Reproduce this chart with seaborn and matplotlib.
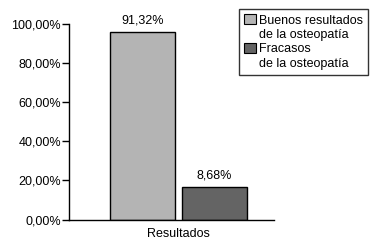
import matplotlib
matplotlib.use("Agg")
import pandas as pd
import matplotlib.pyplot as plt
import seaborn as sns
from matplotlib.patches import Patch
from matplotlib.ticker import FuncFormatter

grupo = ["Resultados", "Resultados"]
series = ["Buenos resultados", "Fracasos"]
# bar heights as drawn in the picture, and the printed labels
alturas = [95.9, 16.6]
etiquetas = ["91,32%", "8,68%"]
colores = ["#b4b4b4", "#646464"]
leyenda = ["Buenos resultados", "de la osteopatía", "Fracasos", "de la osteopatía"]

df = pd.DataFrame({"grupo": grupo, "serie": series, "valor": alturas})

sns.set_style("white")
plt.rcParams["font.family"] = ["Liberation Sans", "DejaVu Sans"]
plt.rcParams.update({"text.color": "black", "axes.labelcolor": "black",
                     "xtick.color": "black", "ytick.color": "black"})

fig = plt.figure(figsize=(3.92, 2.42), dpi=100)
ax = fig.add_axes([69.3 / 392, 22.5 / 242, 204.4 / 392, 195.2 / 242])

sns.barplot(data=df, x="grupo", y="valor", hue="serie", palette=colores,
            width=0.8, gap=0.1, edgecolor="black", linewidth=1,
            legend=False, ax=ax)

for cont, lab in zip(ax.containers, etiquetas):
    ax.bar_label(cont, labels=[lab], padding=4, fontsize=9)

ax.set_ylim(0, 100)
ax.set_xlim(-0.6075, 0.528)
ax.set_yticks([0, 20, 40, 60, 80, 100])
ax.yaxis.set_major_formatter(FuncFormatter(lambda v, p: f"{v:.2f}%".replace(".", ",")))
ax.tick_params(axis="y", length=5, width=1, pad=1, labelsize=9, left=True, color="black")
ax.tick_params(axis="x", length=0, pad=6, labelsize=9)
ax.set_xlabel("")
ax.set_ylabel("")
sns.despine(ax=ax)
for s in ["left", "bottom"]:
    ax.spines[s].set_color("black")
    ax.spines[s].set_linewidth(1)

vacio = Patch(facecolor="none", edgecolor="none")
handles = [Patch(facecolor=colores[0], edgecolor="black", linewidth=0.8), vacio,
           Patch(facecolor=colores[1], edgecolor="black", linewidth=0.8), vacio]
leg = fig.legend(handles, leyenda, loc="upper left",
                 bbox_to_anchor=(239.3 / 392, 1 - 9 / 242), borderaxespad=0,
                 fontsize=9, frameon=True, fancybox=False, labelspacing=0.15,
                 handlelength=0.9, handleheight=0.9, handletextpad=0.3,
                 borderpad=0.4)
leg.get_frame().set_edgecolor("black")
leg.get_frame().set_linewidth(1)

fig.savefig("out.png", dpi=100)
